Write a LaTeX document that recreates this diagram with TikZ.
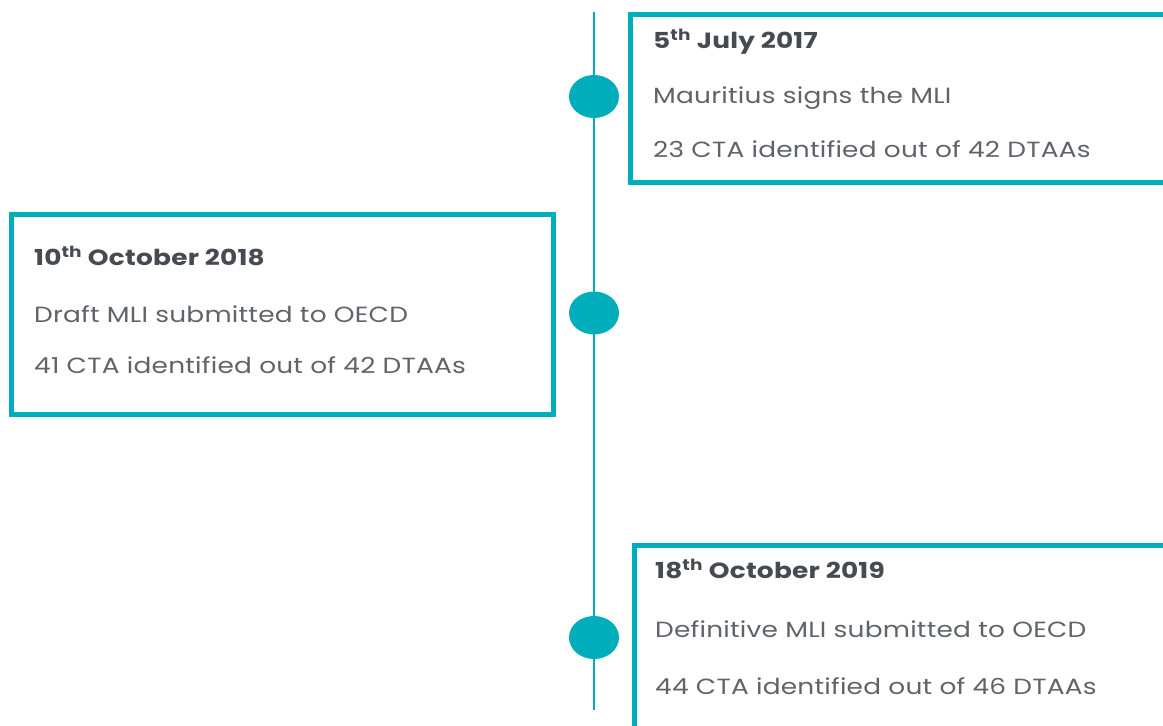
\documentclass[tikz,border=0pt]{standalone}
\usepackage{fontspec}
\setmainfont{Poppins}[FakeStretch=1.2,LetterSpace=1]
\usetikzlibrary{shapes.geometric}
\definecolor{teal}{RGB}{0,174,187}
\definecolor{ink}{RGB}{70,75,82}
\definecolor{softink}{RGB}{95,100,106}
\begin{document}
\begin{tikzpicture}[x=1pt,y=-1pt,
  frame/.style={draw=teal,line width=5pt},
  dot/.style={ellipse,fill=teal,minimum width=50pt,minimum height=43pt,inner sep=0pt},
  datetxt/.style={anchor=base west,inner sep=0pt,text=ink,font=\fontsize{22}{26}\selectfont\bfseries},
  bodytxt/.style={anchor=base west,inner sep=0pt,text=softink,font=\fontsize{22}{26}\selectfont}]
\useasboundingbox (0,0) rectangle (1163,726);
\clip (0,0) rectangle (1163,726);
% timeline axis
\coordinate (top) at (594,12);
\coordinate (bot) at (594,710);
\draw[teal,line width=2pt] (top) -- (bot);
\node[dot] (d1) at (594,96.5) {};
\node[dot] (d2) at (594,313) {};
\node[dot] (d3) at (594,637.5) {};
% event frames (open on the right where they run off the page)
\draw[frame] (1170,14.5) -- (630.5,14.5) -- (630.5,182.5) -- (1170,182.5);
\draw[frame] (11.5,214.5) rectangle (553.5,414.5);
\draw[frame] (1170,545.5) -- (634.5,545.5) -- (634.5,740);
% 2017
\node[datetxt] (t1) at (653,48) {5\textsuperscript{th} July 2017};
\node[bodytxt] (a1) at (653,103) {Mauritius signs the MLI};
\node[bodytxt] (b1) at (653,157) {23 CTA identified out of 42 DTAAs};
% 2018
\node[datetxt] (t2) at (34,265) {10\textsuperscript{th} October 2018};
\node[bodytxt] (a2) at (34,322) {Draft MLI submitted to OECD};
\node[bodytxt] (b2) at (34,373) {41 CTA identified out of 42 DTAAs};
% 2019
\node[datetxt] (t3) at (655,578) {18\textsuperscript{th} October 2019};
\node[bodytxt] (a3) at (655,637) {Definitive MLI submitted to OECD};
\node[bodytxt] (b3) at (655,694) {44 CTA identified out of 46 DTAAs};
\end{tikzpicture}
\end{document}
